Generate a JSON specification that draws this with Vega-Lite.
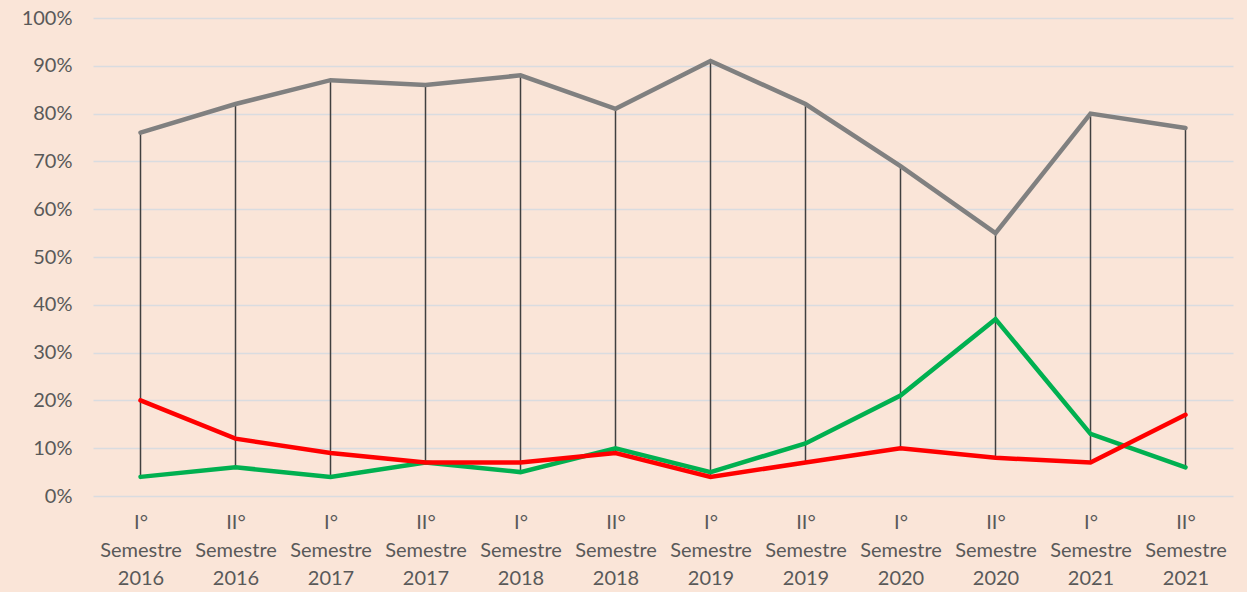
{
  "$schema": "https://vega.github.io/schema/vega-lite/v6.json",
  "width": 1140,
  "height": 478,
  "autosize": {"type": "none"},
  "padding": {"left": 93, "top": 18, "right": 14, "bottom": 96},
  "background": "#FAE5D8",
  "config": {
    "view": {"stroke": null},
    "font": "Lato",
    "axis": {"labelFont": "Lato", "labelColor": "#595959", "labelFontSize": 20}
  },
  "data": {
    "values": [
      {"p": "I°|Semestre|2016", "s": "Serie 1", "v": 0.76},
      {"p": "II°|Semestre|2016", "s": "Serie 1", "v": 0.82},
      {"p": "I°|Semestre|2017", "s": "Serie 1", "v": 0.87},
      {"p": "II°|Semestre|2017", "s": "Serie 1", "v": 0.86},
      {"p": "I°|Semestre|2018", "s": "Serie 1", "v": 0.88},
      {"p": "II°|Semestre|2018", "s": "Serie 1", "v": 0.81},
      {"p": "I°|Semestre|2019", "s": "Serie 1", "v": 0.91},
      {"p": "II°|Semestre|2019", "s": "Serie 1", "v": 0.82},
      {"p": "I°|Semestre|2020", "s": "Serie 1", "v": 0.69},
      {"p": "II°|Semestre|2020", "s": "Serie 1", "v": 0.55},
      {"p": "I°|Semestre|2021", "s": "Serie 1", "v": 0.80},
      {"p": "II°|Semestre|2021", "s": "Serie 1", "v": 0.77},
      {"p": "I°|Semestre|2016", "s": "Serie 2", "v": 0.04},
      {"p": "II°|Semestre|2016", "s": "Serie 2", "v": 0.06},
      {"p": "I°|Semestre|2017", "s": "Serie 2", "v": 0.04},
      {"p": "II°|Semestre|2017", "s": "Serie 2", "v": 0.07},
      {"p": "I°|Semestre|2018", "s": "Serie 2", "v": 0.05},
      {"p": "II°|Semestre|2018", "s": "Serie 2", "v": 0.10},
      {"p": "I°|Semestre|2019", "s": "Serie 2", "v": 0.05},
      {"p": "II°|Semestre|2019", "s": "Serie 2", "v": 0.11},
      {"p": "I°|Semestre|2020", "s": "Serie 2", "v": 0.21},
      {"p": "II°|Semestre|2020", "s": "Serie 2", "v": 0.37},
      {"p": "I°|Semestre|2021", "s": "Serie 2", "v": 0.13},
      {"p": "II°|Semestre|2021", "s": "Serie 2", "v": 0.06},
      {"p": "I°|Semestre|2016", "s": "Serie 3", "v": 0.20},
      {"p": "II°|Semestre|2016", "s": "Serie 3", "v": 0.12},
      {"p": "I°|Semestre|2017", "s": "Serie 3", "v": 0.09},
      {"p": "II°|Semestre|2017", "s": "Serie 3", "v": 0.07},
      {"p": "I°|Semestre|2018", "s": "Serie 3", "v": 0.07},
      {"p": "II°|Semestre|2018", "s": "Serie 3", "v": 0.09},
      {"p": "I°|Semestre|2019", "s": "Serie 3", "v": 0.04},
      {"p": "II°|Semestre|2019", "s": "Serie 3", "v": 0.07},
      {"p": "I°|Semestre|2020", "s": "Serie 3", "v": 0.10},
      {"p": "II°|Semestre|2020", "s": "Serie 3", "v": 0.08},
      {"p": "I°|Semestre|2021", "s": "Serie 3", "v": 0.07},
      {"p": "II°|Semestre|2021", "s": "Serie 3", "v": 0.17}
    ]
  },
  "encoding": {
    "x": {
      "field": "p", "type": "nominal", "sort": null,
      "scale": {"type": "point", "padding": 0.5},
      "axis": {
        "title": null, "labelAngle": 0, "domain": false, "ticks": false, "grid": false,
        "labelExpr": "split(datum.label, '|')", "labelLineHeight": 28,
        "labelPadding": 16, "labelBaseline": "top"
      }
    }
  },
  "layer": [
    {
      "mark": {"type": "rule", "color": "#404040", "strokeWidth": 1.5},
      "encoding": {
        "y": {"aggregate": "min", "field": "v", "type": "quantitative",
          "scale": {"domain": [0, 1]},
          "axis": {"title": null, "format": ".0%", "values": [0,0.1,0.2,0.3,0.4,0.5,0.6,0.7,0.8,0.9,1],
            "domain": false, "ticks": false, "grid": true, "gridColor": "#D9DCE0", "gridWidth": 1.3,
            "labelPadding": 21}},
        "y2": {"aggregate": "max", "field": "v"}
      }
    },
    {
      "mark": {"type": "line", "strokeWidth": 4.5, "strokeCap": "round", "strokeJoin": "miter"},
      "encoding": {
        "y": {"field": "v", "type": "quantitative"},
        "color": {"field": "s", "type": "nominal", "legend": null,
          "scale": {"domain": ["Serie 1", "Serie 2", "Serie 3"], "range": ["#808080", "#00B050", "#FF0000"]}}
      }
    }
  ]
}
